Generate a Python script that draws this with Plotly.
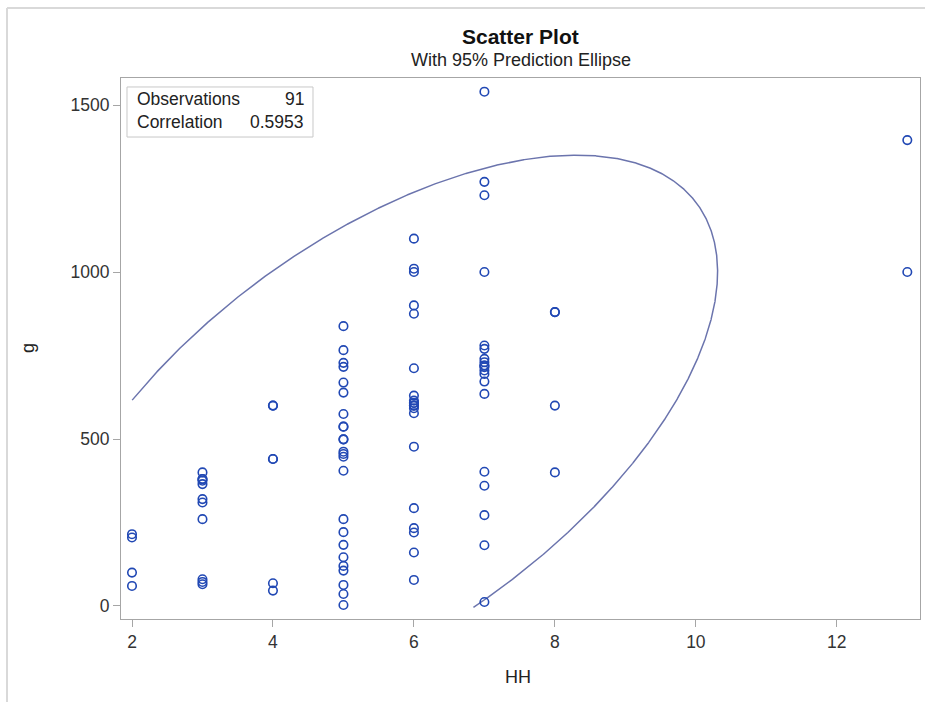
import numpy as np
import plotly.graph_objects as go

# ---- data ----
hh_levels = [2, 3, 4, 5, 6, 7, 8, 13]
g_hh2 = [215, 205, 100, 60]
g_hh3 = [400, 380, 380, 375, 365, 320, 310, 260, 80, 72, 65]
g_hh4 = [600, 600, 440, 440, 68, 46]
g_hh5 = [838, 766, 728, 716, 669, 639, 575, 537, 537, 499, 499, 462, 455, 447,
         405, 260, 221, 183, 146, 120, 106, 63, 36, 3]
g_hh6 = [1100, 1010, 1000, 900, 875, 712, 630, 615, 608, 608, 600, 600, 592, 577,
         477, 293, 233, 220, 160, 78]
g_hh7 = [1540, 1270, 1230, 1000, 780, 770, 740, 730, 720, 720, 715, 705, 695, 672,
         635, 402, 360, 272, 182, 12]
g_hh8 = [880, 880, 600, 400]
g_hh13 = [1395, 1000]
g_groups = [g_hh2, g_hh3, g_hh4, g_hh5, g_hh6, g_hh7, g_hh8, g_hh13]

n_obs_label = 91
corr_label = "0.5953"
x_ticks = [2, 4, 6, 8, 10, 12]
y_ticks = [0, 500, 1000, 1500]

hh = []
g = []
for lvl, grp in zip(hh_levels, g_groups):
    hh += [lvl] * len(grp)
    g += grp
hh = np.array(hh, float)
g = np.array(g, float)

# ---- 95% prediction ellipse ----
n = len(hh)
mean = np.array([hh.mean(), g.mean()])
cov = np.cov(np.vstack([hh, g]))
nu = n - 2
F = (nu / 2.0) * ((0.05) ** (-2.0 / nu) - 1.0)  # F(0.95; 2, nu)
c2 = 2.0 * (n + 1) * (n - 1) / (n * (n - 2)) * F
vals, vecs = np.linalg.eigh(cov)
t = np.linspace(0, 2 * np.pi, 3000)
circ = np.vstack([np.cos(t), np.sin(t)])
pts = vecs @ (np.sqrt(vals * c2)[:, None] * circ) + mean[:, None]
ex, ey = pts[0].tolist(), pts[1].tolist()
xmin, xmax, ymin, ymax = hh.min(), hh.max(), g.min(), g.max()
ex_c, ey_c = [], []
for a, b in zip(ex, ey):
    if xmin <= a <= xmax and ymin - 8 <= b <= ymax:
        ex_c.append(a); ey_c.append(b)
    else:
        ex_c.append(None); ey_c.append(None)

FONT = "Liberation Sans, Arial, sans-serif"
fig = go.Figure()
fig.add_trace(go.Scatter(x=ex_c, y=ey_c, mode="lines", connectgaps=False,
                         line=dict(color="#6b74ad", width=1.5), hoverinfo="skip"))
fig.add_trace(go.Scatter(x=hh, y=g, mode="markers",
                         marker=dict(symbol="circle-open", size=8.5, color="#2148b4",
                                     line=dict(width=1.6, color="#2148b4"))))

axis_common = dict(showgrid=False, zeroline=False, showline=True, mirror=True,
                   linecolor="#a6a6a6", linewidth=1, ticks="outside", ticklen=7,
                   tickcolor="#a6a6a6", tickfont=dict(family=FONT, size=17.5, color="#333"))
fig.update_xaxes(range=[1.844, 13.18], tickvals=x_ticks, **axis_common)
fig.update_yaxes(range=[-39, 1581], tickvals=y_ticks, **axis_common)

ann_font = dict(family=FONT, size=17.5, color="#222")
fig.update_layout(
    width=925, height=702,
    margin=dict(l=121, r=5, t=78, b=83),
    paper_bgcolor="white", plot_bgcolor="white",
    showlegend=False,
    shapes=[
        dict(type="rect", xref="paper", yref="paper", x0=0.0075, x1=0.2403,
             y0=0.8909, y1=0.9834, line=dict(color="#c8c8c8", width=1), fillcolor="white", layer="below"),
        dict(type="line", xref="paper", yref="paper", x0=-0.1427, x1=1.02, y0=1.1294, y1=1.1294,
             line=dict(color="#d9d9d9", width=2)),
        dict(type="line", xref="paper", yref="paper", x0=-0.1427, x1=-0.1427, y0=-0.2, y1=1.1294,
             line=dict(color="#d9d9d9", width=2)),
    ],
    annotations=[
        dict(text="<b>Scatter Plot</b>", xref="paper", yref="paper", x=0.5, y=1.0758,
             showarrow=False, font=dict(family=FONT, size=21, color="#111"), xanchor="center", yanchor="middle"),
        dict(text="With 95% Prediction Ellipse", xref="paper", yref="paper", x=0.5, y=1.0333,
             showarrow=False, font=dict(family=FONT, size=18, color="#222"), xanchor="center", yanchor="middle"),
        dict(text="Observations", xref="paper", yref="paper", x=0.0175, y=0.9612,
             showarrow=False, font=ann_font, xanchor="left", yanchor="middle"),
        dict(text=str(n_obs_label), xref="paper", yref="paper", x=0.2315, y=0.9612,
             showarrow=False, font=ann_font, xanchor="right", yanchor="middle"),
        dict(text="Correlation", xref="paper", yref="paper", x=0.0175, y=0.9187,
             showarrow=False, font=ann_font, xanchor="left", yanchor="middle"),
        dict(text=corr_label, xref="paper", yref="paper", x=0.2315, y=0.9187,
             showarrow=False, font=ann_font, xanchor="right", yanchor="middle"),
        dict(text="HH", xref="paper", yref="paper", x=0.497, y=-0.1072,
             showarrow=False, font=dict(family=FONT, size=18, color="#222"), xanchor="center", yanchor="middle"),
        dict(text="g", xref="paper", yref="paper", x=-0.1164, y=0.5009, textangle=-90,
             showarrow=False, font=dict(family=FONT, size=18, color="#222"), xanchor="center", yanchor="middle"),
    ],
)
fig.write_html("out.html", config={"displayModeBar": False},
               post_script="document.body.style.margin='0';document.body.style.overflow='hidden';")
